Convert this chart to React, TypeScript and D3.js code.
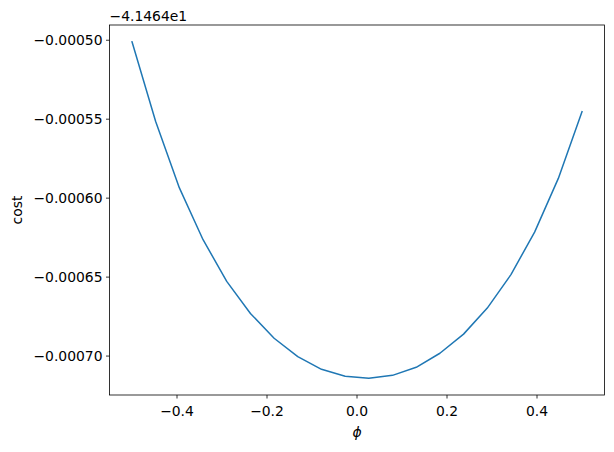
import React from "react";
import * as d3 from "d3";

// phi values: 20 evenly spaced points from -0.5 to 0.5
const phi: number[] = [
  -0.5, -0.4474, -0.3947, -0.3421, -0.2895, -0.2368, -0.1842, -0.1316, -0.0789, -0.0263,
  0.0263, 0.0789, 0.1316, 0.1842, 0.2368, 0.2895, 0.3421, 0.3947, 0.4474, 0.5,
];
// cost values relative to the offset -41.464
const cost: number[] = [
  -0.000501, -0.0005515, -0.0005935, -0.0006263, -0.0006527, -0.000673, -0.0006887, -0.0007004,
  -0.0007084, -0.0007128, -0.000714, -0.0007122, -0.0007071, -0.0006982, -0.0006861, -0.0006696,
  -0.0006484, -0.0006215, -0.0005875, -0.0005452,
];
const xTicks: number[] = [-0.4, -0.2, 0.0, 0.2, 0.4];
const yTicks: number[] = [-0.0005, -0.00055, -0.0006, -0.00065, -0.0007];
const offsetLabel = "−4.1464e1";
const xLabel = "ϕ";
const yLabel = "cost";

const W = 614;
const H = 452;
const L = 109.5;
const R = 604.5;
const T = 25;
const B = 395;
const FONT = "DejaVu Sans";
const FS = 13.9;

export default function App() {
  const [x0, x1] = d3.extent(phi) as [number, number];
  const xp = (x1 - x0) * 0.05;
  const [y0, y1] = d3.extent(cost) as [number, number];
  const yp = (y1 - y0) * 0.05;
  const x = d3.scaleLinear().domain([x0 - xp, x1 + xp]).range([L, R]);
  const y = d3.scaleLinear().domain([y0 - yp, y1 + yp]).range([B, T]);
  const line = d3
    .line<number>()
    .x((_, i) => x(phi[i]))
    .y((d) => y(d));
  const fx = (v: number) => d3.format(".1f")(v).replace("-", "−");
  const fy = (v: number) => d3.format(".5f")(v).replace("-", "−");

  return (
    <svg
      width={W}
      height={H}
      style={{ position: "absolute", left: 0, top: 0, background: "#fff" }}
      fontFamily={FONT}
      fontSize={FS}
    >
      <rect x={0} y={0} width={W} height={H} fill="#fff" />
      <path d={line(cost) || ""} fill="none" stroke="#1f77b4" strokeWidth={1.5} strokeLinejoin="round" strokeLinecap="square" />
      <rect x={L} y={T} width={R - L} height={B - T} fill="none" stroke="#000" strokeWidth={0.8} />
      {xTicks.map((t) => (
        <g key={"x" + t}>
          <line x1={x(t)} x2={x(t)} y1={B} y2={B + 3.5} stroke="#000" strokeWidth={0.8} />
          <text x={x(t)} y={B + 21} textAnchor="middle" fill="#000">
            {fx(t)}
          </text>
        </g>
      ))}
      {yTicks.map((t) => (
        <g key={"y" + t}>
          <line x1={L - 3.5} x2={L} y1={y(t)} y2={y(t)} stroke="#000" strokeWidth={0.8} />
          <text x={L - 7} y={y(t)} dy="0.36em" textAnchor="end" fill="#000">
            {fy(t)}
          </text>
        </g>
      ))}
      <text x={L} y={21} textAnchor="start" fill="#000">
        {offsetLabel}
      </text>
      <text x={(L + R) / 2} y={437} textAnchor="middle" fontStyle="italic" fill="#000">
        {xLabel}
      </text>
      <text
        transform={`translate(22,${(T + B) / 2}) rotate(-90)`}
        textAnchor="middle"
        fill="#000"
      >
        {yLabel}
      </text>
    </svg>
  );
}
